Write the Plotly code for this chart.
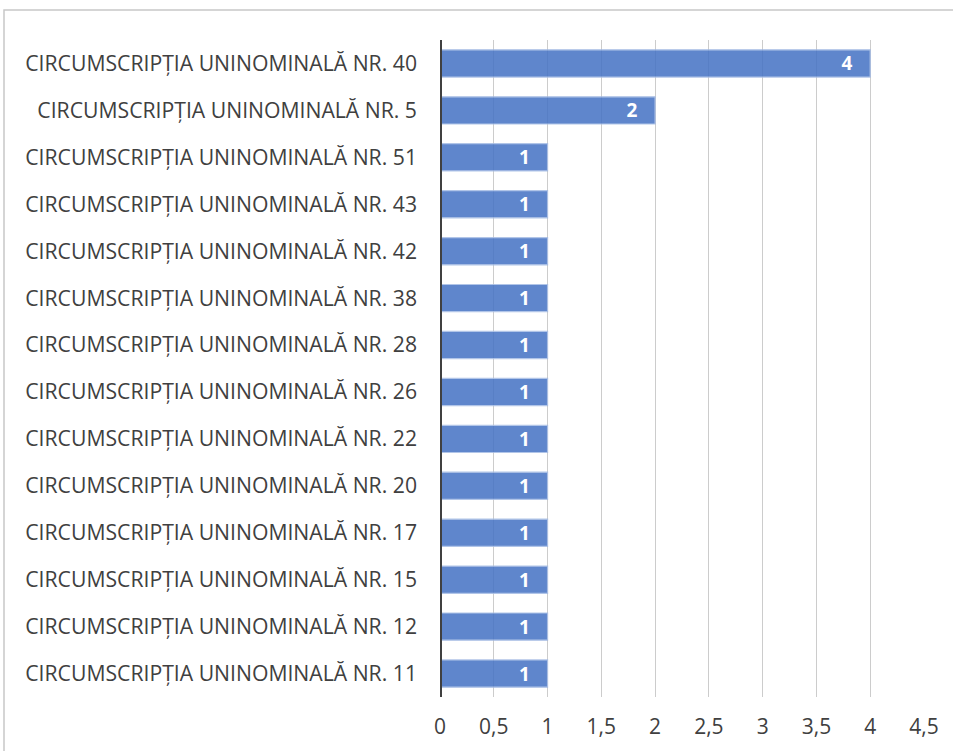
import plotly.graph_objects as go

# categories listed top to bottom as they appear in the chart
circumscriptii = [
    "CIRCUMSCRIPȚIA UNINOMINALĂ NR. 40",
    "CIRCUMSCRIPȚIA UNINOMINALĂ NR. 5",
    "CIRCUMSCRIPȚIA UNINOMINALĂ NR. 51",
    "CIRCUMSCRIPȚIA UNINOMINALĂ NR. 43",
    "CIRCUMSCRIPȚIA UNINOMINALĂ NR. 42",
    "CIRCUMSCRIPȚIA UNINOMINALĂ NR. 38",
    "CIRCUMSCRIPȚIA UNINOMINALĂ NR. 28",
    "CIRCUMSCRIPȚIA UNINOMINALĂ NR. 26",
    "CIRCUMSCRIPȚIA UNINOMINALĂ NR. 22",
    "CIRCUMSCRIPȚIA UNINOMINALĂ NR. 20",
    "CIRCUMSCRIPȚIA UNINOMINALĂ NR. 17",
    "CIRCUMSCRIPȚIA UNINOMINALĂ NR. 15",
    "CIRCUMSCRIPȚIA UNINOMINALĂ NR. 12",
    "CIRCUMSCRIPȚIA UNINOMINALĂ NR. 11",
]
valori = [4, 2, 1, 1, 1, 1, 1, 1, 1, 1, 1, 1, 1, 1]

W, H = 953, 751
L, R, T, B = 440, 29, 40, 54

fig = go.Figure()
fig.add_trace(go.Bar(
    x=valori,
    y=circumscriptii,
    orientation="h",
    marker=dict(color="#4472c4", opacity=0.85,
                line=dict(color="#a4bbe4", width=1.2)),
    text=valori,
    texttemplate="%{text}\u00a0\u00a0\u00a0",
    textposition="inside",
    insidetextanchor="end",
    textangle=0,
    constraintext="none",
    textfont=dict(color="white", size=19, family="Open Sans", weight="bold"),
))

# outer chart border
pw, ph = W - L - R, H - T - B
fig.add_shape(
    type="rect", xref="paper", yref="paper",
    x0=(4 - L) / pw, x1=(960 - L) / pw,
    y0=(H - B - 760) / ph, y1=(H - B - 10) / ph,
    line=dict(color="#c8c8c8", width=1.5), layer="below",
)

fig.update_layout(
    width=W, height=H,
    margin=dict(l=L, r=R, t=T, b=B),
    paper_bgcolor="white", plot_bgcolor="white",
    separators=", ",
    bargap=0.42,
    showlegend=False,
    font=dict(family="Open Sans", size=16, color="#404040"),
    xaxis=dict(
        range=[0, 4.5], dtick=0.5, showgrid=True, gridcolor="#cccccc",
        gridwidth=1, zeroline=False, showline=False, ticks="",
        tickfont=dict(size=21, color="#404040"), ticklabelstandoff=15,
    ),
    yaxis=dict(
        autorange="reversed", showgrid=False, zeroline=False,
        showline=False, ticks="", ticklabelstandoff=22,
        tickfont=dict(size=21.2, color="#404040"),
    ),
)
fig.add_vline(x=0, line=dict(color="#404040", width=4))

fig.write_html(
    "out.html",
    config={"displayModeBar": False},
    post_script="document.body.style.margin='0';",
)
